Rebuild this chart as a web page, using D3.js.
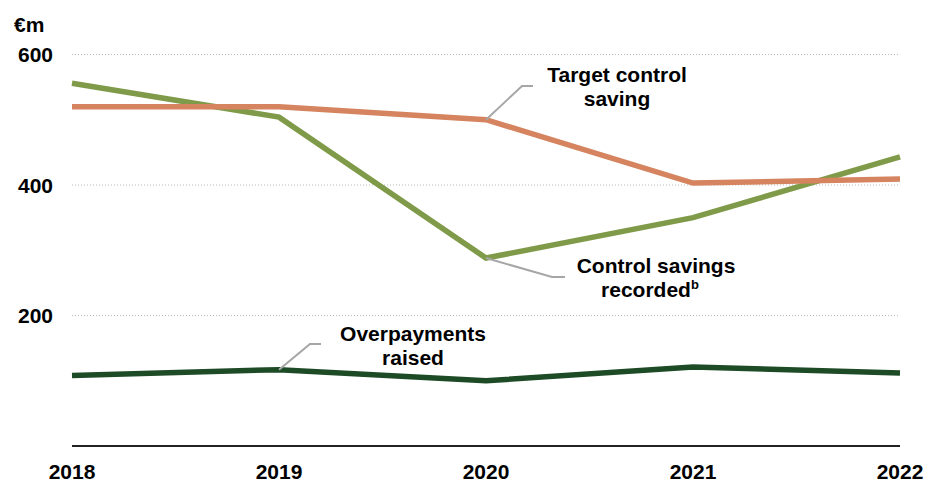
<!DOCTYPE html>
<html>
<head>
<meta charset="utf-8">
<script src="https://cdn.jsdelivr.net/npm/d3@7"></script>
<style>
  body { margin: 0; background: #fff; }
  text { font-family: "Liberation Sans", Arial, sans-serif; font-weight: bold; fill: #000; }
</style>
</head>
<body>
<div id="chart"></div>
<script>
// data
var years = [2018, 2019, 2020, 2021, 2022];
var controlSavings = [556, 504, 288, 350, 443];
var targetSaving = [520, 520, 500, 403, 409];
var overpayments = [108, 117, 100, 121, 112];
var yTicks = [200, 400, 600];

// set the dimensions and margins of the graph
var margin = {top: 0, right: 34, bottom: 39, left: 72},
    width = 934 - margin.left - margin.right,
    height = 485 - margin.top - margin.bottom;

var root = d3.select("#chart")
  .append("svg")
    .attr("width", 934)
    .attr("height", 485);
var svg = root.append("g")
    .attr("transform", "translate(" + margin.left + "," + margin.top + ")");

var x = d3.scalePoint().domain(years).range([0, width]);
var y = d3.scaleLinear().domain([0, 683.5]).range([height, 0]);

// dotted gridlines
svg.append("g")
  .selectAll("line")
  .data(yTicks)
  .enter().append("line")
    .attr("x1", 0)
    .attr("x2", width)
    .attr("y1", function(d) { return y(d); })
    .attr("y2", function(d) { return y(d); })
    .attr("stroke", "#b8b8b8")
    .attr("stroke-width", 1)
    .attr("stroke-dasharray", "1,2");

// y labels
svg.append("g")
  .selectAll("text")
  .data(yTicks)
  .enter().append("text")
    .attr("x", -19)
    .attr("y", function(d) { return y(d); })
    .attr("dy", "0.36em")
    .style("text-anchor", "end")
    .style("font-size", "21px")
    .text(function(d) { return d; });

svg.append("text")
  .attr("x", -58)
  .attr("y", 32)
  .style("font-size", "21px")
  .text("€m");

// x axis
svg.append("line")
  .attr("x1", 0)
  .attr("x2", width)
  .attr("y1", height)
  .attr("y2", height)
  .attr("stroke", "#222")
  .attr("stroke-width", 2);

svg.append("g")
  .selectAll("text")
  .data(years)
  .enter().append("text")
    .attr("x", function(d) { return x(d); })
    .attr("y", height + 33)
    .style("text-anchor", "middle")
    .style("font-size", "21px")
    .text(function(d) { return d; });

// leader lines for the labels
var leaders = [
  {year: 2020, value: 500, pts: [[522, 86], [533, 86]]},
  {year: 2020, value: 288, pts: [[552, 277], [565, 277]]},
  {year: 2019, value: 117, pts: [[310, 344], [321, 344]]}
];
leaders.forEach(function(l) {
  var p = [[x(l.year) + margin.left, y(l.value)]].concat(l.pts);
  root.append("path")
    .attr("d", d3.line()(p))
    .attr("fill", "none")
    .attr("stroke", "#a6a6a6")
    .attr("stroke-width", 2);
});

// the lines
var line = d3.line()
  .x(function(d, i) { return x(years[i]); })
  .y(function(d) { return y(d); });

var series = [
  {values: controlSavings, color: "#7f9a48"},
  {values: targetSaving, color: "#d5845f"},
  {values: overpayments, color: "#1d4b26"}
];
series.forEach(function(s) {
  svg.append("path")
    .attr("d", line(s.values))
    .attr("fill", "none")
    .attr("stroke", s.color)
    .attr("stroke-width", 5.5);
});

// labels
function label(cx, y1, lines) {
  var t = root.append("text")
    .attr("x", cx)
    .attr("y", y1)
    .style("text-anchor", "middle")
    .style("font-size", "21px");
  lines.forEach(function(s, i) {
    t.append("tspan").attr("x", cx).attr("dy", i ? 24 : 0).text(s);
  });
  return t;
}
label(617, 82, ["Target control", "saving"]);
var cs = label(656, 273, ["Control savings", "recorded"]);
cs.select("tspan:last-child").attr("dx", "-6");
cs.append("tspan")
  .attr("dy", -8)
  .style("font-size", "13px")
  .text("b");
label(413, 341, ["Overpayments", "raised"]);
</script>
</body>
</html>
